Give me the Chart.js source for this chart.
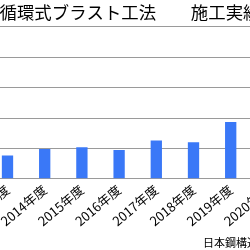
<!DOCTYPE html>
<html>
<head>
<meta charset="utf-8">
<script src="https://cdn.jsdelivr.net/npm/chart.js@4/dist/chart.umd.min.js"></script>
<style>
html,body{margin:0;padding:0;background:#fff;overflow:hidden;width:250px;height:250px;}
#wrap{position:absolute;left:-40px;top:0;width:340px;height:250px;}
</style>
</head>
<body>
<div id="wrap"><canvas id="c" width="340" height="250"></canvas></div>
<script>
const categories = ['2013年度','2014年度','2015年度','2016年度','2017年度','2018年度','2019年度','2020年度'];
const values = [77, 98, 104, 95, 126, 120, 187, null];
const titleText = '循環式ブラスト工法　　施工実績';
const sourceText = '日本鋼構造協会';
const yMax = 500;
const yStep = 100;

const FONT = '"Noto Sans CJK JP", "Noto Sans", sans-serif';

const sourcePlugin = {
  id: 'sourceText',
  afterDraw(chart) {
    const ctx = chart.ctx;
    ctx.save();
    ctx.font = '11px ' + FONT;
    ctx.fillStyle = '#000';
    ctx.textBaseline = 'middle';
    ctx.textAlign = 'left';
    ctx.fillText(sourceText, 243, 242.5);
    ctx.restore();
  }
};

new Chart(document.getElementById('c'), {
  type: 'bar',
  data: {
    labels: categories,
    datasets: [{
      data: values,
      backgroundColor: '#3a78f7',
      borderWidth: 0,
      categoryPercentage: 0.8,
      barPercentage: 0.38
    }]
  },
  options: {
    responsive: false,
    animation: false,
    devicePixelRatio: 1,
    layout: { padding: { left: 13.5, right: 13.5, top: 0, bottom: 18 } },
    plugins: {
      legend: { display: false },
      tooltip: { enabled: false },
      title: {
        display: true,
        text: titleText,
        color: '#000',
        font: { family: FONT, size: 17.4, weight: 'normal' },
        padding: { top: 2, bottom: 4 }
      }
    },
    scales: {
      x: {
        grid: { display: false, drawTicks: false },
        border: { display: false },
        ticks: {
          color: '#000',
          font: { family: FONT, size: 13 },
          minRotation: 40,
          maxRotation: 40,
          autoSkip: false,
          padding: 3
        }
      },
      y: {
        min: 0,
        max: yMax,
        afterFit(scale) { scale.width = 15.4; },
        ticks: { display: false, stepSize: yStep },
        grid: { color: '#9a9a9a', lineWidth: 1, drawTicks: false },
        border: { display: false }
      }
    }
  },
  plugins: [sourcePlugin]
});
</script>
</body>
</html>
